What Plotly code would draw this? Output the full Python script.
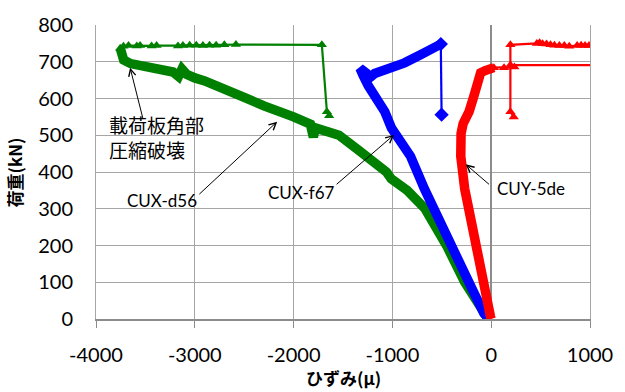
import plotly.graph_objects as go

# Load–strain records (strain in μ, load in kN)
# CUX-d56: loading branch, then post-peak readings
d56_load_strain = [-30, -140, -268, -452, -669, -850, -1011, -1060, -1250, -1345, -1540,
                   -1650, -1780, -1800, -1830, -2000, -2149, -2300, -2500, -2700, -2900,
                   -3000, -3083, -3130, -3165, -3220, -3353, -3487, -3554, -3650, -3720,
                   -3740, -3755]
d56_load_kN = [0, 45, 100, 200, 300, 350, 381, 400, 435, 460, 500,
               512, 520, 495, 530, 550, 562, 580, 603, 628, 648,
               656, 666, 680, 660, 672, 679, 686, 690, 695, 705,
               725, 737]
d56_post_strain = [-3755, -3722, -3671, -3587, -3554, -3437, -3387, -3170, -3120, -3052,
                   -2985, -2918, -2851, -2784, -2701, -2584, -1714, -1663, -1640]
d56_post_kN = [737, 742, 744, 743, 744, 743, 744, 743, 744, 745,
               745, 744, 745, 745, 746, 747, 746, 564, 553]

# CUX-f67
f67_load_strain = [-20, -73, -201, -368, -529, -676, -817, -955, -1010, -1077, -1171,
                   -1245, -1295, -1320, -1328, -1260, -1228, -1180, -1145, -1044, -877,
                   -710, -600, -542, -510]
f67_load_kN = [0, 15, 86, 176, 265, 354, 443, 500, 520, 564, 600,
               635, 662, 676, 682, 668, 657, 668, 671, 680, 697,
               720, 735, 742, 748]
f67_post_strain = [-510, -502]
f67_post_kN = [748, 556]

# CUY-5de
y5de_load_strain = [0, -7, -67, -134, -201, -268, -308, -318, -305, -284, -224, -174,
                    -134, -107, -60, -10, 27]
y5de_load_kN = [0, 6, 86, 176, 265, 354, 443, 479, 505, 532, 564, 608,
                653, 670, 676, 680, 684]
y5de_post_strain = [27, 130, 235, 194, 194, 462, 490, 520, 560, 600, 640, 690, 740, 790,
                    870, 910, 950, 990, 1150, 1150, 194, 194, 228]
y5de_post_kN = [684, 684, 686, 688, 746, 750, 752, 749, 748, 746, 745, 744, 744, 742,
                744, 745, 744, 744, 744, 691, 691, 564, 550]

x_ticks = [-4000, -3000, -2000, -1000, 0, 1000]
x_tick_text = ["-4000", "-3000", "-2000", "-1000", "0", "1000"]
y_ticks = [0, 100, 200, 300, 400, 500, 600, 700, 800]

series = [
    ("CUX-d56", "#008000", d56_load_strain, d56_load_kN, d56_post_strain, d56_post_kN, "triangle-up"),
    ("CUX-f67", "#0000FF", f67_load_strain, f67_load_kN, f67_post_strain, f67_post_kN, "diamond"),
    ("CUY-5de", "#FF0000", y5de_load_strain, y5de_load_kN, y5de_post_strain, y5de_post_kN, "triangle-up"),
]

fig = go.Figure()
for name, color, xs, ys, px_, py_, sym in series:
    # densely sampled loading branch: a heavy band
    fig.add_trace(go.Scatter(x=xs, y=ys, mode="lines", name=name,
                             line=dict(color=color, width=9.5),
                             hoverinfo="skip"))
    # sparse post-peak readings
    fig.add_trace(go.Scatter(x=px_, y=py_, mode="lines+markers", name=name,
                             line=dict(color=color, width=2.2),
                             marker=dict(symbol=sym, size=9 if sym == "triangle-up" else 11,
                                         color=color),
                             hoverinfo="skip"))

label_font = dict(family="Lato, sans-serif", size=17, color="black")
jp_font = dict(family="Noto Sans CJK JP", size=19, color="black")

# text labels
labels = [
    ("載荷板角部<br>圧縮破壊", -3886, 495, "left", jp_font),
    ("CUX-d56", -3337, 323, "center", label_font),
    ("CUX-f67", -1923, 345, "center", label_font),
    ("CUY-5de", 402, 356, "center", label_font),
]
for text, lx, ly, anchor, fnt in labels:
    fig.add_annotation(x=lx, y=ly, text=text, showarrow=False, xanchor=anchor,
                       yanchor="middle", align="left", font=fnt)

# leader arrows: (head x, head y, tail x, tail y)
arrows = [
    (-3655, 684, -3521, 541),
    (-2166, 537, -2969, 336),
    (-984, 501, -1580, 363),
    (-258, 421, -7, 363),
]
for hx, hy, tx, ty in arrows:
    fig.add_annotation(x=hx, y=hy, ax=tx, ay=ty, xref="x", yref="y", axref="x", ayref="y",
                       text="", showarrow=True, arrowhead=5, arrowsize=1.4, arrowwidth=1,
                       arrowcolor="black", standoff=0, startstandoff=0)

# axis titles
title_font = dict(family="Noto Sans CJK JP", size=17, color="black")
fig.add_annotation(x=0.5, y=-0.2, xref="paper", yref="paper",
                   text="<b>ひずみ(μ)</b>", showarrow=False, font=title_font,
                   xanchor="center", yanchor="middle")
fig.add_annotation(x=-0.165, y=0.5, xref="paper", yref="paper",
                   text="<b>荷重(kN)</b>", showarrow=False, font=title_font,
                   textangle=-90, xanchor="center", yanchor="middle")

tick_font = dict(family="Lato, sans-serif", size=20, color="black")
fig.update_xaxes(range=[-4000, 1000], tickvals=x_ticks, ticktext=x_tick_text, showgrid=True,
                 gridcolor="#A6A6A6", gridwidth=1,
                 zeroline=True, zerolinecolor="#8C8C8C", zerolinewidth=1.5,
                 showline=True, linecolor="#8C8C8C", linewidth=2, mirror=False,
                 ticks="outside", ticklen=7, tickcolor="#8C8C8C", tickwidth=1,
                 tickfont=tick_font, ticklabelstandoff=10)
fig.update_yaxes(range=[0, 800], tickvals=y_ticks, showgrid=True,
                 gridcolor="#A6A6A6", gridwidth=1, zeroline=False,
                 showline=True, linecolor="#A6A6A6", linewidth=1, mirror=True,
                 ticks="", tickfont=tick_font, ticklabelstandoff=18)

fig.update_layout(width=625, height=392, margin=dict(l=96, r=31, t=20, b=73),
                  plot_bgcolor="white", paper_bgcolor="white", showlegend=False)

fig.write_html("out.html")
